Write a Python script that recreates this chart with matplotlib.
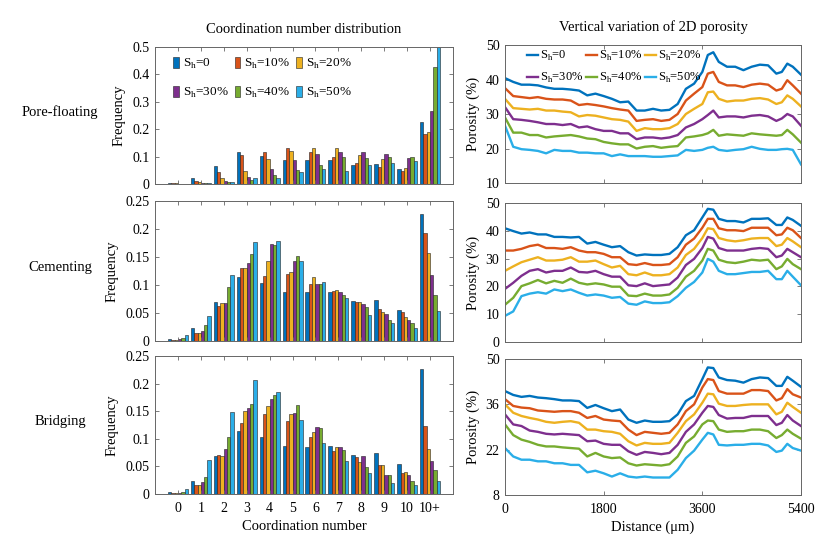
import numpy as np
import matplotlib
matplotlib.use("Agg")
import matplotlib.pyplot as plt
from matplotlib.lines import Line2D
from matplotlib.patches import Patch

plt.rcParams['font.family'] = ['Liberation Serif', 'DejaVu Serif']
plt.rcParams['mathtext.fontset'] = 'custom'
plt.rcParams['mathtext.rm'] = 'Liberation Serif'

# ---- data ----
coord_labels = ['0', '1', '2', '3', '4', '5', '6', '7', '8', '9', '10', '10+']
series_labels = ['S$_\\mathregular{h}$=0', 'S$_\\mathregular{h}$=10%', 'S$_\\mathregular{h}$=20%',
                 'S$_\\mathregular{h}$=30%', 'S$_\\mathregular{h}$=40%', 'S$_\\mathregular{h}$=50%']
colors = ['#0072BD', '#D95319', '#EDB120', '#7E2F8E', '#77AC30', '#2AAEE8']
row_names = ['Pore-floating', 'Cementing', 'Bridging']

# frequency per coordination number, one row per Sh
freq_floating = [
    [0.003, 0.022, 0.067, 0.115, 0.104, 0.087, 0.086, 0.086, 0.071, 0.074, 0.055, 0.228],
    [0.002, 0.010, 0.044, 0.107, 0.116, 0.131, 0.115, 0.098, 0.078, 0.061, 0.049, 0.184],
    [0.002, 0.007, 0.022, 0.048, 0.093, 0.120, 0.131, 0.130, 0.107, 0.092, 0.060, 0.189],
    [0.001, 0.005, 0.011, 0.026, 0.056, 0.089, 0.108, 0.116, 0.116, 0.110, 0.096, 0.265],
    [0.001, 0.004, 0.009, 0.015, 0.034, 0.051, 0.071, 0.097, 0.094, 0.097, 0.100, 0.426],
    [0.001, 0.004, 0.007, 0.021, 0.022, 0.043, 0.054, 0.049, 0.069, 0.078, 0.085, 0.500],
]
freq_cementing = [
    [0.004, 0.024, 0.069, 0.115, 0.104, 0.088, 0.087, 0.087, 0.071, 0.074, 0.055, 0.227],
    [0.002, 0.015, 0.062, 0.130, 0.116, 0.119, 0.101, 0.089, 0.069, 0.058, 0.051, 0.193],
    [0.002, 0.014, 0.068, 0.130, 0.143, 0.123, 0.115, 0.091, 0.069, 0.051, 0.043, 0.158],
    [0.003, 0.018, 0.067, 0.140, 0.174, 0.143, 0.101, 0.088, 0.066, 0.049, 0.037, 0.118],
    [0.005, 0.029, 0.096, 0.156, 0.171, 0.152, 0.101, 0.083, 0.060, 0.038, 0.033, 0.082],
    [0.011, 0.045, 0.118, 0.176, 0.178, 0.142, 0.105, 0.077, 0.046, 0.033, 0.023, 0.054],
]
freq_bridging = [
    [0.003, 0.023, 0.069, 0.115, 0.104, 0.087, 0.086, 0.087, 0.071, 0.074, 0.055, 0.227],
    [0.002, 0.016, 0.070, 0.128, 0.145, 0.132, 0.104, 0.078, 0.067, 0.053, 0.038, 0.123],
    [0.002, 0.016, 0.068, 0.150, 0.159, 0.145, 0.113, 0.085, 0.058, 0.053, 0.040, 0.081],
    [0.0025, 0.021, 0.081, 0.156, 0.172, 0.147, 0.121, 0.085, 0.068, 0.035, 0.035, 0.059],
    [0.004, 0.031, 0.104, 0.163, 0.179, 0.161, 0.119, 0.079, 0.049, 0.035, 0.024, 0.044],
    [0.009, 0.061, 0.148, 0.207, 0.185, 0.134, 0.093, 0.060, 0.038, 0.020, 0.016, 0.023],
]

# porosity profiles (%), sampled along the distance (um)
distance = [0, 150, 300, 450, 600, 750, 900, 1050, 1200, 1350, 1500, 1650, 1800, 1950,
            2100, 2250, 2400, 2550, 2700, 2850, 3000, 3150, 3300, 3450, 3600, 3700, 3800,
            3900, 4050, 4200, 4350, 4500, 4650, 4800, 4950, 5050, 5150, 5250, 5400]

por_floating = [
    [40.4, 39.3, 38.5, 38.5, 38.3, 37.7, 37.3, 37.3, 37.1, 36.8, 35.4, 35.9, 35.2, 34.4, 33.4, 33.6, 31.0, 31.0, 31.5, 31.0,
     31.2, 32.9, 37.3, 38.8, 42.2, 47.1, 47.9, 45.1, 43.7, 43.7, 42.7, 43.7, 44.3, 44.1, 41.7, 42.2, 44.6, 43.7, 41.4],
    [37.5, 35.2, 34.9, 34.6, 34.9, 34.4, 34.2, 34.2, 33.9, 32.6, 32.9, 32.6, 32.2, 31.7, 31.3, 31.0, 28.0, 28.3, 28.5, 28.0,
     28.3, 30.0, 33.9, 35.9, 37.8, 41.7, 42.2, 39.3, 38.3, 38.3, 37.8, 38.5, 38.8, 38.5, 36.8, 37.3, 39.8, 38.3, 35.9],
    [34.4, 31.7, 31.5, 31.3, 31.5, 31.0, 31.0, 30.7, 30.5, 29.3, 29.7, 29.5, 29.0, 28.5, 28.3, 27.8, 25.1, 25.9, 25.6, 25.6,
     25.9, 27.1, 30.0, 31.5, 32.9, 36.3, 36.5, 34.4, 33.6, 33.9, 33.9, 34.4, 34.6, 34.2, 32.9, 33.4, 35.4, 34.4, 32.2],
    [32.0, 28.5, 28.3, 28.0, 27.6, 27.1, 27.1, 26.8, 27.1, 26.1, 26.4, 25.6, 25.1, 25.1, 24.4, 24.4, 22.7, 23.2, 23.2, 22.9,
     23.2, 23.9, 26.1, 27.1, 28.5, 29.7, 31.0, 29.0, 29.3, 29.3, 29.0, 29.5, 29.7, 29.3, 28.0, 28.7, 30.0, 29.3, 26.6],
    [29.0, 24.6, 24.6, 23.9, 23.9, 23.2, 23.5, 23.7, 23.9, 23.5, 22.9, 22.7, 21.9, 21.5, 21.2, 21.2, 20.0, 20.5, 20.7, 20.2,
     20.5, 20.7, 23.2, 23.5, 23.9, 24.4, 25.4, 23.7, 24.1, 23.9, 23.7, 24.4, 24.1, 23.9, 23.7, 23.9, 25.4, 24.1, 21.7],
    [26.6, 20.5, 19.8, 19.6, 19.3, 18.6, 19.6, 19.3, 19.3, 18.8, 18.8, 18.6, 18.6, 17.8, 18.3, 17.8, 17.8, 17.8, 17.6, 17.6,
     17.8, 18.0, 19.6, 19.3, 19.6, 20.2, 20.5, 19.6, 19.3, 19.6, 19.8, 20.5, 19.9, 19.6, 19.6, 19.8, 19.9, 19.6, 15.4],
]
por_cementing = [
    [40.9, 39.9, 39.0, 39.4, 38.7, 38.7, 37.8, 37.8, 37.6, 37.8, 35.4, 36.0, 35.0, 34.1, 34.5, 32.3, 31.1, 31.5, 31.3, 31.3,
     31.7, 34.1, 38.4, 40.2, 44.8, 47.9, 47.6, 44.3, 43.5, 43.5, 43.0, 44.3, 44.3, 44.5, 42.1, 42.1, 44.8, 43.9, 41.8],
    [32.9, 32.9, 33.5, 34.5, 35.0, 33.8, 33.8, 33.5, 34.1, 32.9, 32.3, 32.3, 31.7, 30.5, 30.5, 28.0, 27.7, 28.4, 27.7, 27.7,
     28.0, 30.5, 35.0, 37.2, 41.1, 44.3, 44.3, 40.9, 40.2, 40.2, 39.9, 41.1, 41.1, 41.1, 38.4, 38.7, 41.1, 40.2, 37.4],
    [25.6, 27.2, 28.7, 29.6, 30.5, 29.3, 29.3, 29.6, 30.5, 28.9, 28.9, 29.3, 28.0, 26.8, 27.4, 24.4, 24.0, 25.0, 24.0, 24.0,
     24.4, 26.8, 31.3, 33.5, 37.4, 40.9, 40.6, 37.4, 36.6, 36.2, 36.6, 37.2, 37.4, 37.4, 34.5, 35.0, 37.4, 36.2, 34.1],
    [19.1, 21.3, 23.8, 25.6, 26.2, 25.0, 25.6, 25.6, 26.8, 25.2, 25.0, 25.6, 24.4, 23.5, 23.5, 20.4, 20.1, 21.1, 20.1, 20.4,
     20.7, 23.2, 27.7, 29.9, 33.8, 37.8, 37.2, 33.8, 32.9, 32.9, 32.9, 33.5, 33.8, 33.5, 30.5, 31.1, 33.5, 32.3, 30.5],
    [13.4, 15.9, 20.1, 21.1, 22.3, 21.1, 22.0, 21.3, 22.8, 21.3, 20.7, 21.1, 20.7, 19.9, 19.9, 16.7, 16.5, 17.4, 16.7, 16.7,
     17.1, 19.5, 23.5, 25.6, 29.3, 33.5, 32.9, 29.6, 28.7, 28.4, 28.9, 29.6, 29.3, 29.6, 26.2, 27.2, 29.9, 28.0, 26.2],
    [9.4, 11.0, 16.5, 17.4, 17.9, 17.4, 18.9, 18.3, 18.9, 17.7, 16.7, 17.1, 16.7, 15.9, 16.2, 13.8, 13.4, 14.6, 14.0, 14.0,
     14.3, 16.5, 19.5, 21.6, 25.0, 29.9, 28.9, 25.6, 24.4, 24.4, 24.8, 25.2, 25.2, 25.6, 22.6, 22.6, 25.6, 23.5, 20.4],
]
por_bridging = [
    [40.1, 38.9, 38.3, 38.6, 38.1, 37.9, 37.6, 37.2, 37.2, 37.0, 34.9, 35.8, 34.8, 33.9, 34.4, 31.3, 30.3, 31.0, 30.6, 30.6,
     30.8, 32.9, 37.0, 38.6, 43.8, 47.4, 47.2, 44.3, 43.5, 43.3, 42.7, 43.8, 44.3, 44.1, 41.7, 41.7, 44.5, 43.3, 41.4],
    [37.6, 35.5, 35.0, 34.8, 34.1, 33.9, 33.7, 33.9, 33.9, 33.4, 31.8, 32.4, 31.3, 31.0, 30.8, 28.2, 26.5, 27.5, 27.2, 26.9,
     27.2, 29.8, 33.9, 36.0, 41.2, 43.8, 43.5, 40.1, 39.3, 39.3, 39.3, 40.4, 40.4, 40.1, 37.2, 37.9, 40.7, 39.1, 38.1],
    [36.0, 33.4, 32.4, 31.8, 31.3, 30.6, 30.3, 30.6, 30.8, 30.3, 28.2, 28.2, 27.7, 27.5, 26.9, 24.6, 23.3, 24.1, 23.8, 23.8,
     24.1, 27.2, 30.8, 32.9, 36.5, 39.3, 39.1, 36.2, 35.5, 35.5, 35.8, 36.0, 36.0, 36.0, 32.9, 33.7, 36.5, 35.2, 33.4],
    [32.9, 29.8, 29.3, 27.9, 27.5, 26.9, 26.7, 26.9, 26.7, 26.5, 24.6, 24.8, 23.8, 23.5, 23.5, 21.5, 20.4, 21.3, 21.0, 20.6,
     21.0, 23.5, 27.5, 29.8, 33.4, 35.5, 35.2, 32.7, 31.6, 31.8, 31.8, 32.4, 32.4, 32.4, 29.6, 30.3, 32.7, 31.0, 29.3],
    [29.8, 26.5, 25.1, 24.4, 23.5, 23.0, 23.0, 22.7, 22.5, 22.3, 19.9, 21.0, 19.9, 19.4, 19.6, 17.8, 17.1, 17.5, 17.3, 17.1,
     17.5, 19.9, 24.1, 26.1, 29.8, 31.0, 30.8, 28.2, 27.5, 27.7, 27.7, 28.2, 28.2, 27.7, 25.6, 26.5, 28.2, 26.9, 25.4],
    [22.5, 19.9, 18.9, 18.9, 18.4, 18.4, 17.8, 17.8, 17.3, 17.3, 15.0, 15.5, 14.7, 13.7, 14.7, 13.7, 13.4, 13.7, 13.4, 13.4,
     13.4, 15.8, 19.4, 21.7, 25.1, 27.2, 26.7, 23.5, 23.3, 23.5, 23.5, 23.8, 23.8, 23.3, 21.3, 21.7, 23.8, 22.5, 21.7],
]

freq_panels = [freq_floating, freq_cementing, freq_bridging]
por_panels = [por_floating, por_cementing, por_bridging]
freq_ylim = [(0, 0.5), (0, 0.25), (0, 0.25)]
freq_ticks = [[0, 0.1, 0.2, 0.3, 0.4, 0.5], [0, 0.05, 0.1, 0.15, 0.2, 0.25], [0, 0.05, 0.1, 0.15, 0.2, 0.25]]
por_ylim = [(10, 50), (0, 50), (8, 50)]
por_ticks = [[10, 20, 30, 40, 50], [0, 10, 20, 30, 40, 50], [8, 22, 36, 50]]
dist_ticks = [0, 1800, 3600, 5400]

# ---- layout (pixel boxes) ----
W, H = 825, 549
left_rows = [(47, 184), (201, 341), (356, 494)]
right_rows = [(45, 183), (203, 342), (359, 495)]
legend_order = [0, 3, 1, 4, 2, 5]  # legend fills by column; make rows read 0/10/20, 30/40/50


def px_axes(fig, x0, x1, y0, y1):
    return fig.add_axes([x0 / W, (H - y1) / H, (x1 - x0) / W, (y1 - y0) / H])


def style_axes(ax):
    for s in ax.spines.values():
        s.set_color('#666666')
        s.set_linewidth(0.7)
    ax.tick_params(direction='in', length=3, width=0.6, color='#666666',
                   top=True, right=True, labelsize=10, pad=4)
    ax.tick_params(axis='x', pad=6)


fig = plt.figure(figsize=(W / 100, H / 100), dpi=100)

x = np.arange(len(coord_labels))
n = len(series_labels)
bw = 0.145
for i in range(3):
    ax = px_axes(fig, 155, 453, *left_rows[i])
    for j in range(n):
        ax.bar(x + (j - (n - 1) / 2) * bw, freq_panels[i][j], width=bw, color=colors[j],
               edgecolor='#222222', linewidth=0.4)
    ax.set_xlim(-1, 12)
    ax.set_ylim(*freq_ylim[i])
    ax.set_yticks(freq_ticks[i])
    ax.set_yticklabels([f'{t:g}' for t in freq_ticks[i]])
    ax.set_xticks(x)
    ax.set_ylabel('Frequency', fontsize=10.5, labelpad=5)
    style_axes(ax)
    if i == 2:
        ax.set_xticklabels(coord_labels)
        ax.set_xlabel('Coordination number', fontsize=10.5, labelpad=3)
    else:
        ax.set_xticklabels([])
    if i == 0:
        ax.set_title('Coordination number distribution', fontsize=10.5, pad=10)
        handles = [Patch(facecolor=colors[j], edgecolor='#222222', linewidth=0.4) for j in legend_order]
        ax.legend(handles, [series_labels[j] for j in legend_order], ncol=3, frameon=False,
                  loc='upper left', bbox_to_anchor=(0.06, 0.93), borderpad=0, borderaxespad=0,
                  fontsize=9.5, handlelength=0.45, handleheight=1.0,
                  handletextpad=0.3, columnspacing=0.45, labelspacing=1.1)
    y0, y1 = left_rows[i]
    fig.text(60 / W, 1 - ((y0 + y1) / 2 - 3) / H, row_names[i], ha='center', va='center', fontsize=10.5)

for i in range(3):
    ax = px_axes(fig, 505, 801, *right_rows[i])
    for j in range(n):
        ax.plot(distance, por_panels[i][j], color=colors[j], linewidth=1.7)
    ax.set_xlim(0, 5400)
    ax.set_ylim(*por_ylim[i])
    ax.set_yticks(por_ticks[i])
    ax.set_xticks(dist_ticks)
    ax.set_ylabel('Porosity (%)', fontsize=10.5, labelpad=4)
    style_axes(ax)
    if i == 2:
        ax.set_xlabel('Distance (\u03bcm)', fontsize=10.5, labelpad=3)
    else:
        ax.set_xticklabels([])
    if i == 0:
        ax.set_title('Vertical variation of 2D porosity', fontsize=10.5, pad=10)
        handles = [Line2D([], [], color=colors[j], linewidth=1.7) for j in legend_order]
        ax.legend(handles, [series_labels[j] for j in legend_order], ncol=3, frameon=False,
                  loc='upper left', bbox_to_anchor=(0.075, 0.97), borderpad=0, borderaxespad=0,
                  fontsize=9, handlelength=0.9, handletextpad=0.15,
                  columnspacing=0.2, labelspacing=0.65)

fig.savefig('out.png', dpi=100)
